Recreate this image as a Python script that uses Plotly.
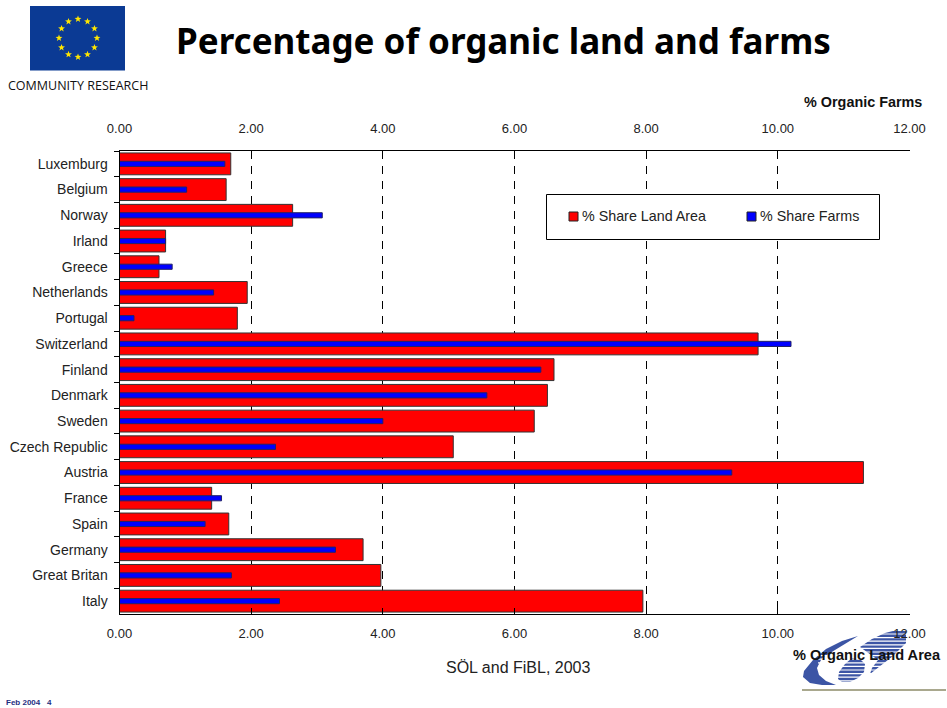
import math
import plotly.graph_objects as go

countries = ["Luxemburg", "Belgium", "Norway", "Irland", "Greece", "Netherlands", "Portugal",
             "Switzerland", "Finland", "Denmark", "Sweden", "Czech Republic", "Austria", "France",
             "Spain", "Germany", "Great Britan", "Italy"]
land_area = [1.69, 1.62, 2.63, 0.70, 0.60, 1.94, 1.79, 9.70, 6.60, 6.50, 6.30, 5.07, 11.30, 1.40, 1.66, 3.70, 3.97, 7.95]
farms = [1.60, 1.02, 3.08, 0.70, 0.80, 1.43, 0.22, 10.20, 6.40, 5.58, 4.00, 2.37, 9.30, 1.55, 1.30, 3.28, 1.70, 2.43]
x_ticks = [0, 2, 4, 6, 8, 10, 12]
series_names = ["% Share Land Area", "% Share Farms"]
series_colors = ["#FF0000", "#0000FF"]

W, H = 947, 708
FONT = "Liberation Sans"


def px(x):
    return x / W


def py(y):
    return 1 - y / H


def path(points):
    s = ""
    for i, (x, y) in enumerate(points):
        s += ("M" if i == 0 else "L") + f"{px(x):.5f},{py(y):.5f} "
    return s + "Z"


def rect(x0, y0, x1, y1, fill, line=None, width=0, layer="below"):
    return dict(type="rect", xref="paper", yref="paper", x0=px(x0), x1=px(x1), y0=py(y0), y1=py(y1),
                fillcolor=fill, line=dict(color=line or fill, width=width), layer=layer)


shapes = []
# EU flag
shapes.append(rect(30, 6, 125, 70.5, "#0B3A94"))
for i in range(12):
    a = 2 * math.pi * i / 12
    cx, cy = 78 + 19 * math.sin(a), 38 - 19 * math.cos(a)
    pts = []
    for k in range(10):
        r = 3.6 if k % 2 == 0 else 1.5
        b = math.pi * k / 5
        pts.append((cx + r * math.sin(b), cy - r * math.cos(b)))
    shapes.append(dict(type="path", xref="paper", yref="paper", path=path(pts), fillcolor="#FFE600",
                       line=dict(width=0), layer="below"))

# Legend box and swatches
shapes.append(rect(546.5, 194.5, 879.5, 239.5, "white", "black", 1, "above"))
shapes.append(rect(569, 212, 578, 221, series_colors[0], "#222222", 1, "above"))
shapes.append(rect(747, 212, 756, 221, series_colors[1], "#222222", 1, "above"))

# Lower-right logo
LOGO = "#3C55A5"
swoosh = [(858, 636), (842, 641), (826, 649), (813, 660), (804, 671), (803, 677), (810, 683), (822, 685),
          (836, 685), (826, 681), (819, 675), (817, 668), (822, 658), (835, 650)]
ellipse = [(861, 660), (852, 658), (845, 664), (839, 672), (838, 679), (842, 682), (850, 682), (858, 678),
           (864, 672), (865, 664)]
right = [(860, 647), (872, 639), (885, 633), (893, 631), (906, 631), (906, 643), (893, 656), (870, 674),
         (872, 668), (878, 660)]
for p in (swoosh, ellipse, right):
    shapes.append(dict(type="path", xref="paper", yref="paper", path=path(p), fillcolor=LOGO,
                       line=dict(width=0), layer="below"))
for i in range(14):
    y = 634 + i * 3.6
    x0 = 818 if y > 655 else 858
    if y > 672:
        x0 = 830
    shapes.append(dict(type="line", xref="paper", yref="paper", x0=px(x0), x1=px(908), y0=py(y), y1=py(y),
                       line=dict(color="white", width=1.2), layer="below"))
shapes.append(dict(type="line", xref="paper", yref="paper", x0=px(802), x1=px(946), y0=py(690), y1=py(690),
                   line=dict(color="#A9A88E", width=2), layer="below"))

annotations = [
    dict(text="<b>Percentage of organic land and farms</b>", x=px(503.5), y=py(41), font=dict(size=35, color="black", family="Noto Sans")),
    dict(text="COMMUNITY RESEARCH", x=px(78), y=py(85.5), font=dict(size=12.5, color="#111111", family="Open Sans")),
    dict(text="<b>% Organic Farms</b>", x=px(862.5), y=py(101.5), font=dict(size=14.4, color="#111111", family=FONT)),
    dict(text="<b>% Organic Land Area</b>", x=px(867), y=py(655), font=dict(size=14.6, color="#111111", family=FONT)),
    dict(text="SÖL and FiBL, 2003", x=px(517.5), y=py(667), font=dict(size=16, color="#222222", family=FONT)),
    dict(text="<b>Feb 2004   4</b>", x=px(28.5), y=py(702.5), font=dict(size=8, color="#1F2F7F", family=FONT)),
    dict(text=series_names[0], x=px(644), y=py(215.5), font=dict(size=14.3, color="#222222", family=FONT)),
    dict(text=series_names[1], x=px(809), y=py(215.5), font=dict(size=14.3, color="#222222", family=FONT)),
]
for a in annotations:
    a.update(xref="paper", yref="paper", showarrow=False, xanchor="center", yanchor="middle")

fig = go.Figure()
fig.add_trace(go.Bar(name=series_names[0], y=countries, x=land_area, orientation="h", width=0.85,
                     xaxis="x", yaxis="y", marker=dict(color=series_colors[0], line=dict(color="#333333", width=1))))
fig.add_trace(go.Bar(name=series_names[1], y=countries, x=farms, orientation="h", width=0.2,
                     xaxis="x2", yaxis="y", marker=dict(color=series_colors[1], line=dict(color="#222266", width=1))))

common = dict(range=[0, 12], tickvals=x_ticks, ticktext=[f"{v:.2f}" for v in x_ticks], showline=True,
              linecolor="black", linewidth=1, ticks="inside", ticklen=6, tickcolor="black",
              tickfont=dict(size=13, color="#222222", family=FONT), zeroline=False,
              domain=[px(119.5), px(909.5)])
fig.update_layout(
    width=W, height=H, margin=dict(l=0, r=0, t=0, b=0, autoexpand=False), paper_bgcolor="white", plot_bgcolor="white",
    barmode="overlay", shapes=shapes, annotations=annotations, showlegend=False,
    font=dict(family=FONT),
    xaxis=dict(showgrid=True, gridcolor="black", griddash="8px,7px", gridwidth=1, anchor="y", side="bottom",
               ticklabelstandoff=7, **common),
    xaxis2=dict(showgrid=False, anchor="y", side="top", overlaying="x", ticklabelstandoff=12, **common),
    yaxis=dict(domain=[py(614), py(151)], autorange=False, range=[17.5, -0.5], type="category",
               categoryorder="array", categoryarray=countries, tickson="boundaries", ticks="outside", ticklen=5,
               tickcolor="black", showline=True, linecolor="black", linewidth=1, showgrid=False,
               tickfont=dict(size=14, color="#222222", family=FONT), ticklabelstandoff=8),
)
fig.write_html("out.html", config=dict(displayModeBar=False),
               post_script="document.body.style.margin='0';document.documentElement.style.overflow='hidden';")
